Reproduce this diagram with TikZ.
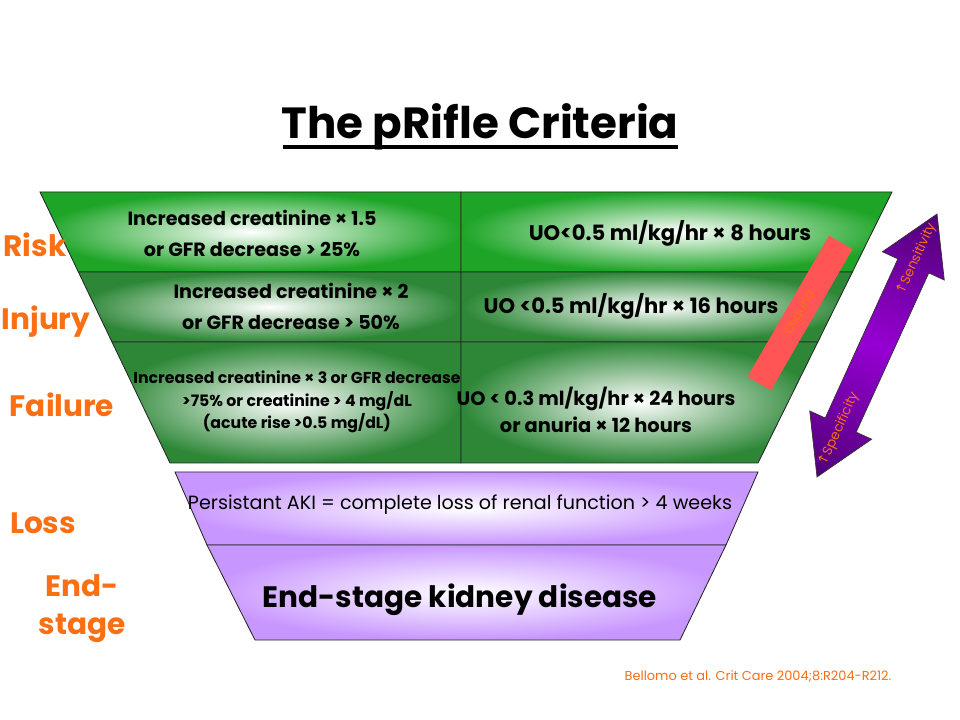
\documentclass[tikz,border=0pt]{standalone}
\usepackage{fontspec}
\setmainfont{Poppins}
\newfontfamily\symfont{DejaVu Sans}
\usetikzlibrary{calc}
\definecolor{gtop}{RGB}{30,165,40}
\definecolor{glow}{RGB}{45,135,55}
\definecolor{vcell}{RGB}{200,150,255}
\definecolor{adark}{RGB}{80,0,120}
\definecolor{abright}{RGB}{150,0,210}
\definecolor{redbar}{RGB}{255,85,85}
\definecolor{lorange}{RGB}{250,110,20}
\tikzset{
	cell/.style={draw=black!85, line width=0.6pt, inner color=white},
	crit/.style={align=center, font=\bfseries\fontsize{13.6}{22}\selectfont},
	uo/.style={align=center, font=\bfseries\fontsize{15}{19}\selectfont},
	stage/.style={text=lorange, align=center, font=\bfseries\fontsize{21}{27}\selectfont},
	axislab/.style={text=lorange, rotate=65.47, inner sep=1pt, font=\fontsize{9.5}{9.5}\selectfont}
}

\begin{document}
\begin{tikzpicture}[x=0.025cm, y=0.025cm]
		%%%%% START %%%%%
		\useasboundingbox[fill=white] (0,0) rectangle (960,-720);
		
		\node[anchor=base] (title) at (480,-139) {\bfseries\fontsize{31}{31}\selectfont The pRifle Criteria};
		\draw[line width=2.2pt] (283,-147) -- (678,-147);
		
		% green rows, creatinine side
		\shadedraw[cell, outer color=gtop] (40,-192) -- (461,-192) -- (461,-272) -- (78.4,-272) -- cycle;
		\shadedraw[cell, outer color=glow] (78.4,-272) -- (461,-272) -- (461,-342) -- (112,-342) -- cycle;
		\shadedraw[cell, outer color=glow] (112,-342) -- (461,-342) -- (461,-463) -- (170,-463) -- cycle;
		
		% green rows, urine output side
		\shadedraw[cell, outer color=gtop] (461,-192) -- (892,-192) -- (852.4,-272) -- (461,-272) -- cycle;
		\shadedraw[cell, outer color=glow] (461,-272) -- (852.4,-272) -- (817.8,-342) -- (461,-342) -- cycle;
		\shadedraw[cell, outer color=glow] (461,-342) -- (817.8,-342) -- (758,-463) -- (461,-463) -- cycle;
		
		% purple rows
		\shadedraw[cell, outer color=vcell] (175,-472) -- (758,-472) -- (726,-545) -- (207,-545) -- cycle;
		\shadedraw[cell, outer color=vcell] (207,-545) -- (726,-545) -- (680,-640) -- (255,-640) -- cycle;
		
		\node[crit] (riskcrea) at (252,-233) {Increased creatinine × 1.5\\or GFR decrease > 25\%};
		\node[crit] (injcrea) at (291,-306) {Increased creatinine × 2\\or GFR decrease > 50\%};
		\node[crit, font=\bfseries\fontsize{11.2}{16}\selectfont] (failcrea) at (297,-402) {Increased creatinine × 3 or GFR decrease\\>75\% or creatinine > 4 mg/dL\\(acute rise >0.5 mg/dL)};
		
		\node[uo] (riskuo) at (670,-233) {UO<0.5 ml/kg/hr × 8 hours};
		\node[uo] (injuo) at (631,-306) {UO <0.5 ml/kg/hr × 16 hours};
		\node[uo, font=\bfseries\fontsize{13.8}{19.5}\selectfont] (failuo) at (596,-410) {UO < 0.3 ml/kg/hr × 24 hours\\or anuria × 12 hours};
		
		\node[font=\fontsize{13.6}{13.6}\selectfont] (lossdef) at (460,-505) {Persistant AKI = complete loss of renal function > 4 weeks};
		\node[font=\bfseries\fontsize{21}{21}\selectfont] (eskd) at (460,-600) {End-stage kidney disease};
		
		\node[stage] (risk) at (35,-245) {Risk};
		\node[stage] (injury) at (46,-322) {Injury};
		\node[stage] (failure) at (62,-405) {Failure};
		\node[stage] (loss) at (43,-523) {Loss};
		\node[stage] (endstage) at (82,-609) {End-\\stage};
		
		\node[fill=redbar, minimum width=4.075cm, minimum height=0.675cm, rotate=60, text=lorange, font=\fontsize{9}{9}\selectfont] (oliguria) at (800,-313) {Oliguria};
		
		% sensitivity / specificity arrow
		\begin{scope}[transform canvas={shift={(877,-345.5)}, rotate=65.47}]
			\shadedraw[draw=black!80, line width=0.5pt, left color=adark, right color=adark, middle color=abright]
				(-144.5,0) -- (-87.5,34) -- (-87.5,17) -- (87.5,17) -- (87.5,34) -- (144.5,0)
				-- (87.5,-34) -- (87.5,-17) -- (-87.5,-17) -- (-87.5,-34) -- cycle;
		\end{scope}
		\node[axislab] (sens) at (916.4,-259.1) {{\symfont ↑}Sensitivity};
		\node[axislab] (spec) at (838.8,-429.2) {{\symfont ↑}Specificity};
		
		\node[text=lorange, font=\fontsize{9.2}{9.2}\selectfont] (cite) at (758,-677) {Bellomo et al. Crit Care 2004;8:R204-R212.};
		%%%%% END %%%%%
\end{tikzpicture}
\end{document}
